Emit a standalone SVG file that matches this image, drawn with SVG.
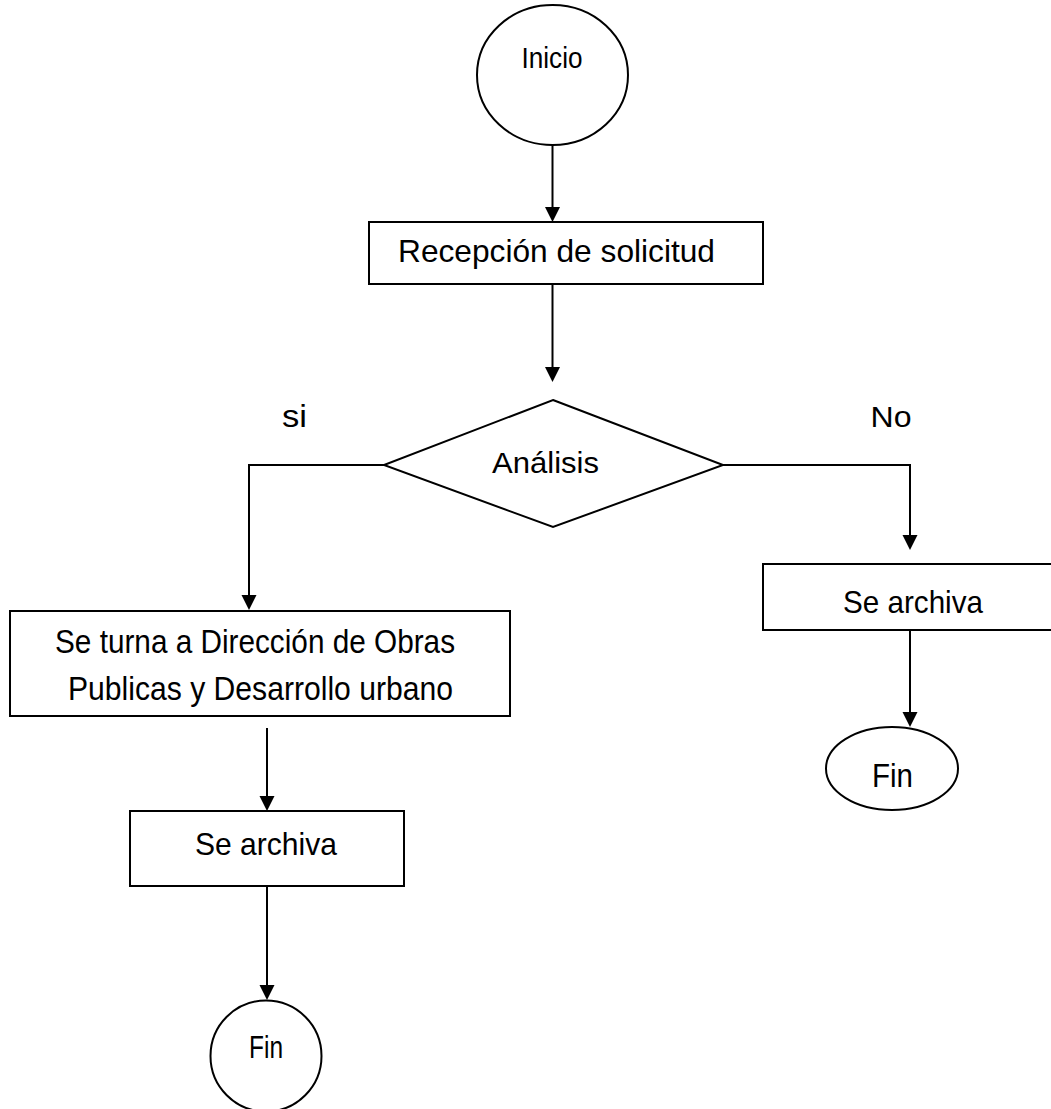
<svg xmlns="http://www.w3.org/2000/svg" width="1051" height="1109" viewBox="0 0 1051 1109">
<style>
.shape{fill:#fff;stroke:#000;stroke-width:2}
.edge{fill:none;stroke:#000;stroke-width:2}
text{font-family:"Liberation Sans",Arial,sans-serif;fill:#000;text-anchor:middle}
</style>
<defs>
<marker id="ah" markerUnits="userSpaceOnUse" markerWidth="16" markerHeight="16" refX="12" refY="7.5" orient="auto">
<path d="M0,0 L15,7.5 L0,15 z" fill="#000"/>
</marker>
</defs>
<rect width="1051" height="1109" fill="#fff"/>
<g id="connectors">
<line class="edge" x1="552.5" y1="145" x2="552.5" y2="219" marker-end="url(#ah)"/>
<line class="edge" x1="552.5" y1="284" x2="552.5" y2="379" marker-end="url(#ah)"/>
<polyline class="edge" points="384,465 249,465 249,607" marker-end="url(#ah)"/>
<polyline class="edge" points="723,465 910,465 910,547" marker-end="url(#ah)"/>
<line class="edge" x1="267" y1="728" x2="267" y2="808" marker-end="url(#ah)"/>
<line class="edge" x1="267" y1="886" x2="267" y2="997" marker-end="url(#ah)"/>
<line class="edge" x1="910" y1="630" x2="910" y2="724" marker-end="url(#ah)"/>
</g>
<g id="inicio">
<ellipse class="shape" cx="552.5" cy="75" rx="75.5" ry="70" stroke-width="1.5"/>
<text x="552" y="68" font-size="30" textLength="61" lengthAdjust="spacingAndGlyphs">Inicio</text>
</g>
<g id="recepcion">
<rect class="shape" x="369" y="222" width="394" height="62"/>
<text x="556.5" y="262" font-size="30.5" textLength="317" lengthAdjust="spacingAndGlyphs">Recepción de solicitud</text>
</g>
<g id="analisis">
<polygon class="shape" points="553,400 723,465 553,527 384,465" stroke-width="1.5"/>
<text x="545.5" y="473" font-size="29" textLength="107" lengthAdjust="spacingAndGlyphs">Análisis</text>
</g>
<g id="label-si">
<text x="294.5" y="427" font-size="32" textLength="25" lengthAdjust="spacingAndGlyphs">si</text>
</g>
<g id="label-no">
<text x="891" y="427" font-size="30" textLength="41" lengthAdjust="spacingAndGlyphs">No</text>
</g>
<g id="turna">
<rect class="shape" x="10" y="611" width="500" height="105"/>
<text x="255" y="653" font-size="34" textLength="400" lengthAdjust="spacingAndGlyphs">Se turna a Dirección de Obras</text>
<text x="260.5" y="700" font-size="34" textLength="385" lengthAdjust="spacingAndGlyphs">Publicas y Desarrollo urbano</text>
</g>
<g id="archiva-left">
<rect class="shape" x="130" y="811" width="274" height="75"/>
<text x="266" y="855" font-size="32" textLength="142" lengthAdjust="spacingAndGlyphs">Se archiva</text>
</g>
<g id="fin-left">
<circle class="shape" cx="266" cy="1056" r="55.5" stroke-width="1.5"/>
<text x="266" y="1058" font-size="31" textLength="34" lengthAdjust="spacingAndGlyphs">Fin</text>
</g>
<g id="archiva-right">
<rect class="shape" x="763" y="564" width="296" height="66"/>
<text x="913" y="613" font-size="32" textLength="140" lengthAdjust="spacingAndGlyphs">Se archiva</text>
</g>
<g id="fin-right">
<ellipse class="shape" cx="892" cy="768.5" rx="66" ry="41.5" stroke-width="1.5"/>
<text x="892.5" y="787" font-size="33" textLength="41" lengthAdjust="spacingAndGlyphs">Fin</text>
</g>
</svg>
